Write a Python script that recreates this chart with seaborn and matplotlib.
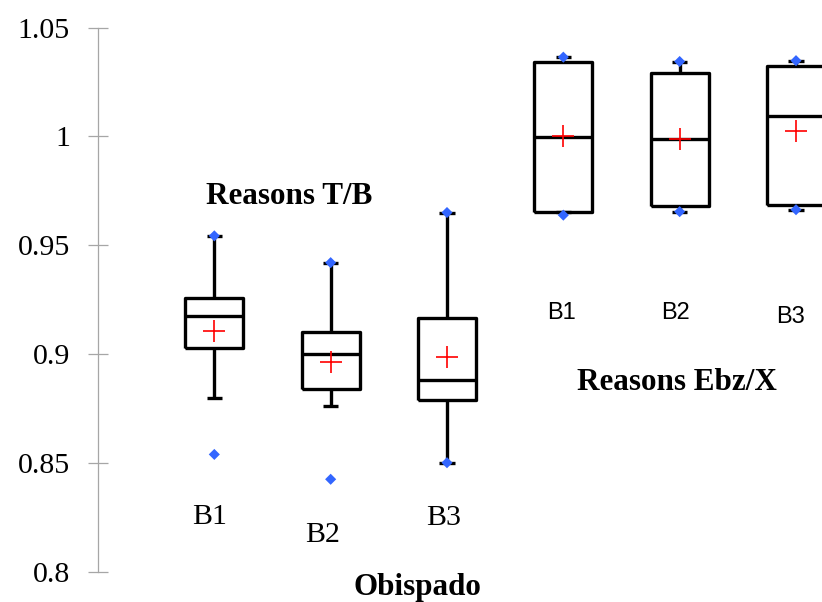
import matplotlib
matplotlib.use("Agg")
import matplotlib.pyplot as plt
import seaborn as sns
import pandas as pd

# Summary statistics for each box (Excel-style box and whisker)
groups = ["Reasons T/B", "Reasons T/B", "Reasons T/B",
          "Reasons Ebz/X", "Reasons Ebz/X", "Reasons Ebz/X"]
blocks = ["B1", "B2", "B3", "B1", "B2", "B3"]
q1 = [0.9028, 0.8841, 0.8791, 0.9655, 0.9681, 0.9686]
median = [0.9176, 0.9002, 0.8882, 0.9999, 0.9990, 1.0093]
q3 = [0.9258, 0.9101, 0.9169, 1.0341, 1.0289, 1.0324]
whisker_low = [0.8798, 0.8763, 0.8503, 0.9655, 0.9655, 0.9664]
whisker_high = [0.9544, 0.9421, 0.9651, 1.0364, 1.0344, 1.0348]
mean = [0.9109, 0.8967, 0.8990, 1.0000, 0.9990, 1.0026]
minimum = [0.8541, 0.8427, 0.8503, 0.9639, 0.9655, 0.9664]
maximum = [0.9544, 0.9421, 0.9651, 1.0364, 1.0344, 1.0348]

y_ticks = [0.8, 0.85, 0.9, 0.95, 1.0, 1.05]
y_tick_labels = ["0.8", "0.85", "0.9", "0.95", "1", "1.05"]

sns.set_theme(style="white")
plt.rcParams["font.family"] = ["Liberation Serif", "DejaVu Serif"]
plt.rcParams["text.color"] = "black"
plt.rcParams["ytick.labelcolor"] = "black"

fig = plt.figure(figsize=(8.22, 6.02), dpi=100)
ax = fig.add_axes([0.1192, 0.0493, 0.8808, 0.905])

positions = list(range(len(blocks)))
stats = []
for i in positions:
    stats.append(dict(med=median[i], q1=q1[i], q3=q3[i],
                      whislo=whisker_low[i], whishi=whisker_high[i],
                      fliers=[], mean=mean[i]))

line_kw = dict(color="black", linewidth=2.4, solid_capstyle="butt")
ax.bxp(stats, positions=positions, widths=0.5, capwidths=0.13,
       showfliers=False, showmeans=False, patch_artist=False,
       boxprops=line_kw, medianprops=line_kw,
       whiskerprops=line_kw, capprops=line_kw)

# Blue diamonds at the minimum and maximum of each series
pts = []
for i in positions:
    pts.append({"pos": i, "value": minimum[i]})
    pts.append({"pos": i, "value": maximum[i]})
pts_df = pd.DataFrame(pts)
sns.scatterplot(data=pts_df, x="pos", y="value", ax=ax, marker="D",
                s=32, color="#3366FF", edgecolor="none", zorder=5,
                legend=False)

# Red crosses for the means
mean_df = pd.DataFrame({"pos": positions, "value": mean})
sns.scatterplot(data=mean_df, x="pos", y="value", ax=ax, marker="+",
                s=260, color="#FF0000", linewidth=1.2, zorder=6,
                legend=False)

ax.set_xlim(-1, 5.2235)
ax.set_ylim(0.8, 1.05)
ax.set_yticks(y_ticks)
ax.set_yticklabels(y_tick_labels)
ax.set_xticks([])
ax.set_xlabel("")
ax.set_ylabel("")
for side in ["top", "right", "bottom"]:
    ax.spines[side].set_visible(False)
ax.spines["left"].set_color("#A6A6A6")
ax.spines["left"].set_linewidth(0.9)
ax.tick_params(axis="y", direction="inout", length=13.7, width=0.9,
               color="#A6A6A6", pad=13.3, labelsize=21.5, labelcolor="black",
               left=True)

# Block labels under each group
serif = ["Liberation Serif", "DejaVu Serif"]
sans = ["Liberation Sans", "DejaVu Sans"]
ax.text(-0.043, 0.8254, "B1", family=serif, fontsize=21.5, ha="center", va="center")
ax.text(0.928, 0.8171, "B2", family=serif, fontsize=21.5, ha="center", va="center")
ax.text(1.968, 0.8249, "B3", family=serif, fontsize=21.5, ha="center", va="center")
ax.text(2.983, 0.919, "B1", family=sans, fontsize=17, ha="center", va="center")
ax.text(3.963, 0.919, "B2", family=sans, fontsize=17, ha="center", va="center")
ax.text(4.951, 0.9172, "B3", family=sans, fontsize=17, ha="center", va="center")

# Group titles
ax.text(0.645, 0.9723, "Reasons T/B", family=serif, fontsize=22.4,
        fontweight="bold", ha="center", va="center")
ax.text(3.98, 0.8873, "Reasons Ebz/X", family=serif, fontsize=22.4,
        fontweight="bold", ha="center", va="center")
ax.text(1.745, 0.7932, "Obispado", family=serif, fontsize=22.4,
        fontweight="bold", ha="center", va="center", clip_on=False)

fig.savefig("out.png", dpi=100)
